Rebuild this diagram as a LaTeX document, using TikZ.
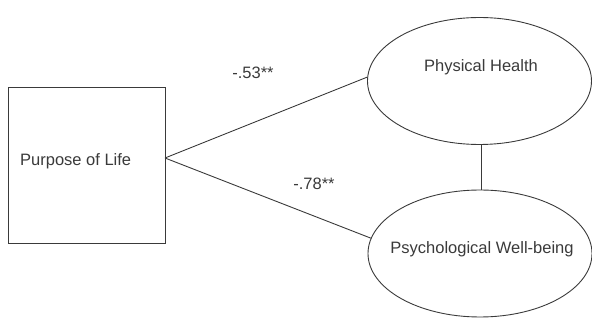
\documentclass[tikz,border=0pt]{standalone}
\usepackage{fontspec}
\setmainfont{Liberation Sans}
\usetikzlibrary{shapes.geometric}
\definecolor{ink}{HTML}{3a3a3a}
\begin{document}
\begin{tikzpicture}[x=1pt,y=-1pt,
  every node/.style={text=ink},
  lbl/.style={font=\fontsize{16.5}{19}\selectfont, inner sep=0pt},
  construct/.style={draw=ink, line width=0.9pt, ellipse, inner sep=0pt,
    minimum width=224pt, minimum height=127pt},
  measure/.style={draw=ink, line width=0.9pt, rectangle, inner sep=0pt,
    minimum width=157pt, minimum height=156pt},
  link/.style={draw=ink, line width=0.9pt}]
\useasboundingbox (0,0) rectangle (592,320);
% observed variable
\node[measure] (pol) at (86.5,165) {};
\node[lbl, anchor=west] (poltext) at (20,161) {Purpose of Life};
\coordinate (src) at (165,158);
% latent constructs
\node[construct] (ph) at (479.5,81) {};
\node[lbl] (phtext) at (481,67) {Physical Health};
\node[construct] (pw) at (480,253.5) {};
\node[lbl] (pwtext) at (482,249) {Psychological Well-being};
% paths
\draw[link] (src) -- (ph.178);
\draw[link] (src) -- (pw.172);
\draw[link] (ph.south) ++(2,0) coordinate (phs) -- (phs |- pw.north);
% coefficients
\node[lbl] (c1) at (253,73) {-.53**};
\node[lbl] (c2) at (314,184) {-.78**};
\end{tikzpicture}
\end{document}
